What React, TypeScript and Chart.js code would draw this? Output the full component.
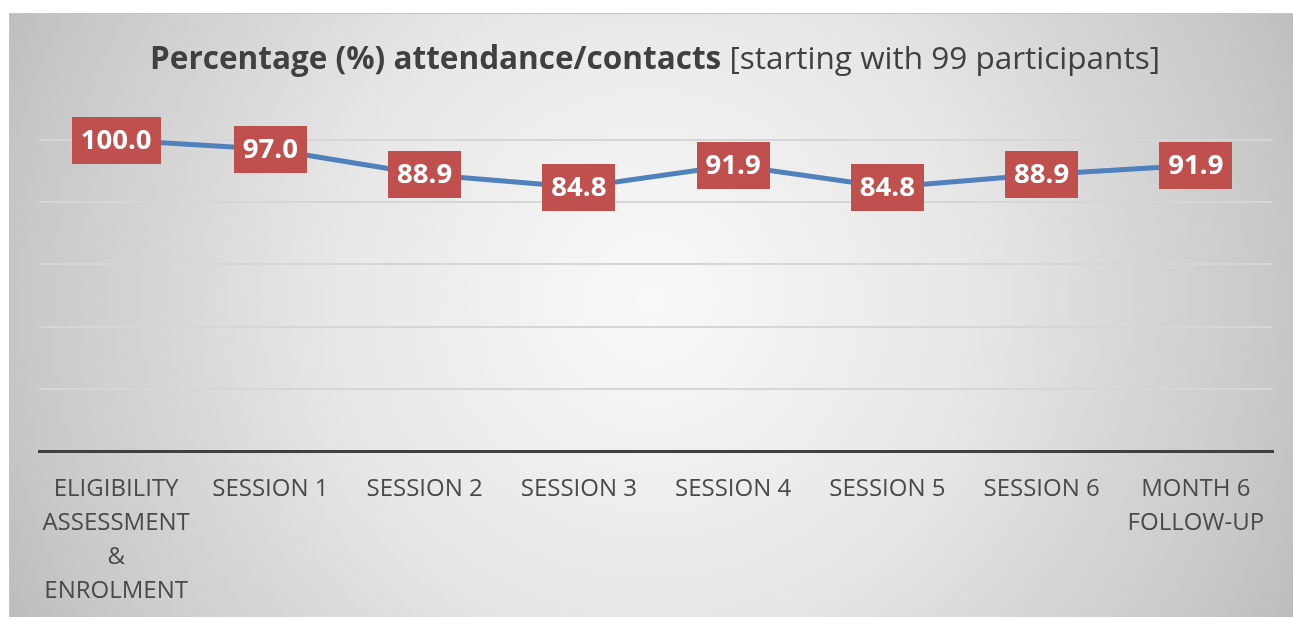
import React, { useEffect, useRef } from "react";
import { Chart, registerables } from "chart.js";

Chart.register(...registerables);

const categories: (string | string[])[] = [
  ["ELIGIBILITY", "ASSESSMENT", "&", "ENROLMENT"],
  "SESSION 1",
  "SESSION 2",
  "SESSION 3",
  "SESSION 4",
  "SESSION 5",
  "SESSION 6",
  ["MONTH 6", "FOLLOW-UP"],
];
const attendance = [100.0, 97.0, 88.9, 84.8, 91.9, 84.8, 88.9, 91.9];
const yTicks = [0, 20, 40, 60, 80, 100];
const titleBold = "Percentage (%) attendance/contacts";
const titleNormal = " [starting with 99 participants]";

const W = 1293;
const H = 617;

const backgroundPlugin = {
  id: "bgTitle",
  beforeDraw(chart: any) {
    const ctx = chart.ctx as CanvasRenderingContext2D;
    ctx.save();
    ctx.fillStyle = "#ffffff";
    ctx.fillRect(0, 0, W, H);
    const cx = 651, cy = 300;
    const g = ctx.createRadialGradient(cx, cy, 0, cx, cy, 710);
    g.addColorStop(0, "#f9f9f9");
    g.addColorStop(0.45, "#e7e7e7");
    g.addColorStop(0.9, "#c7c7c7");
    g.addColorStop(1, "#bdbdbd");
    ctx.fillStyle = g;
    ctx.fillRect(9, 13, W - 9, H - 13);
    ctx.strokeStyle = "#c4c4c4";
    ctx.lineWidth = 1;
    ctx.strokeRect(9.5, 13.5, W, H);

    // title
    ctx.fillStyle = "#404040";
    ctx.textBaseline = "alphabetic";
    ctx.textAlign = "left";
    const boldFont = "bold 31.5px 'Open Sans'";
    const normFont = "31.5px 'Open Sans'";
    ctx.font = boldFont;
    const wb = ctx.measureText(titleBold).width;
    ctx.font = normFont;
    const wn = ctx.measureText(titleNormal).width;
    const start = 655 - (wb + wn) / 2;
    ctx.font = boldFont;
    ctx.fillText(titleBold, start, 69);
    ctx.font = normFont;
    ctx.fillText(titleNormal, start + wb, 69);
    ctx.restore();
  },
};

const labelPlugin = {
  id: "boxLabels",
  afterDatasetsDraw(chart: any) {
    const ctx = chart.ctx as CanvasRenderingContext2D;
    const meta = chart.getDatasetMeta(0);
    ctx.save();
    ctx.font = "bold 27.5px 'Open Sans'";
    ctx.textAlign = "center";
    ctx.textBaseline = "middle";
    meta.data.forEach((pt: any, i: number) => {
      const txt = attendance[i].toFixed(1);
      const w = ctx.measureText(txt).width + 18;
      const h = 47;
      ctx.fillStyle = "#C0504D";
      ctx.fillRect(Math.round(pt.x - w / 2), Math.round(pt.y - h / 2), Math.round(w), h);
      ctx.fillStyle = "#ffffff";
      ctx.fillText(txt, pt.x, pt.y + 1);
    });
    ctx.restore();
  },
};

export default function App() {
  const ref = useRef<HTMLCanvasElement>(null);
  useEffect(() => {
    if (!ref.current) return;
    const chart = new Chart(ref.current, {
      type: "line",
      data: {
        labels: categories,
        datasets: [
          {
            data: attendance,
            borderColor: "#4F81BD",
            borderWidth: 5,
            pointRadius: 0,
            tension: 0,
            fill: false,
          },
        ],
      },
      options: {
        animation: false,
        responsive: false,
        devicePixelRatio: 1,
        layout: { padding: { left: 39, right: 20, top: 140, bottom: 0 } },
        plugins: {
          legend: { display: false },
          title: { display: false },
          tooltip: { enabled: false },
        },
        scales: {
          x: {
            offset: true,
            grid: { display: false, drawTicks: false },
            border: { display: true, color: "#404040", width: 3 },
            ticks: {
              color: "#4a4a4a",
              font: { family: "'Open Sans'", size: 24, lineHeight: "34px" } as any,
              padding: 21,
              maxRotation: 0,
              autoSkip: false,
            },
            afterFit: (s: any) => {
              s.height = 166;
            },
          },
          y: {
            min: 0,
            max: 100,
            afterBuildTicks: (s: any) => {
              s.ticks = yTicks.map((v) => ({ value: v }));
            },
            ticks: { display: false },
            border: { display: false },
            grid: { color: "#d6d6d6", lineWidth: 2, drawTicks: false },
            afterFit: (s: any) => {
              s.width = 0;
            },
          },
        },
      },
      plugins: [backgroundPlugin, labelPlugin],
    });
    return () => chart.destroy();
  }, []);
  return (
    <div style={{ position: "absolute", left: 0, top: 0, width: W, height: H }}>
      <canvas ref={ref} width={W} height={H} style={{ display: "block" }} />
    </div>
  );
}
